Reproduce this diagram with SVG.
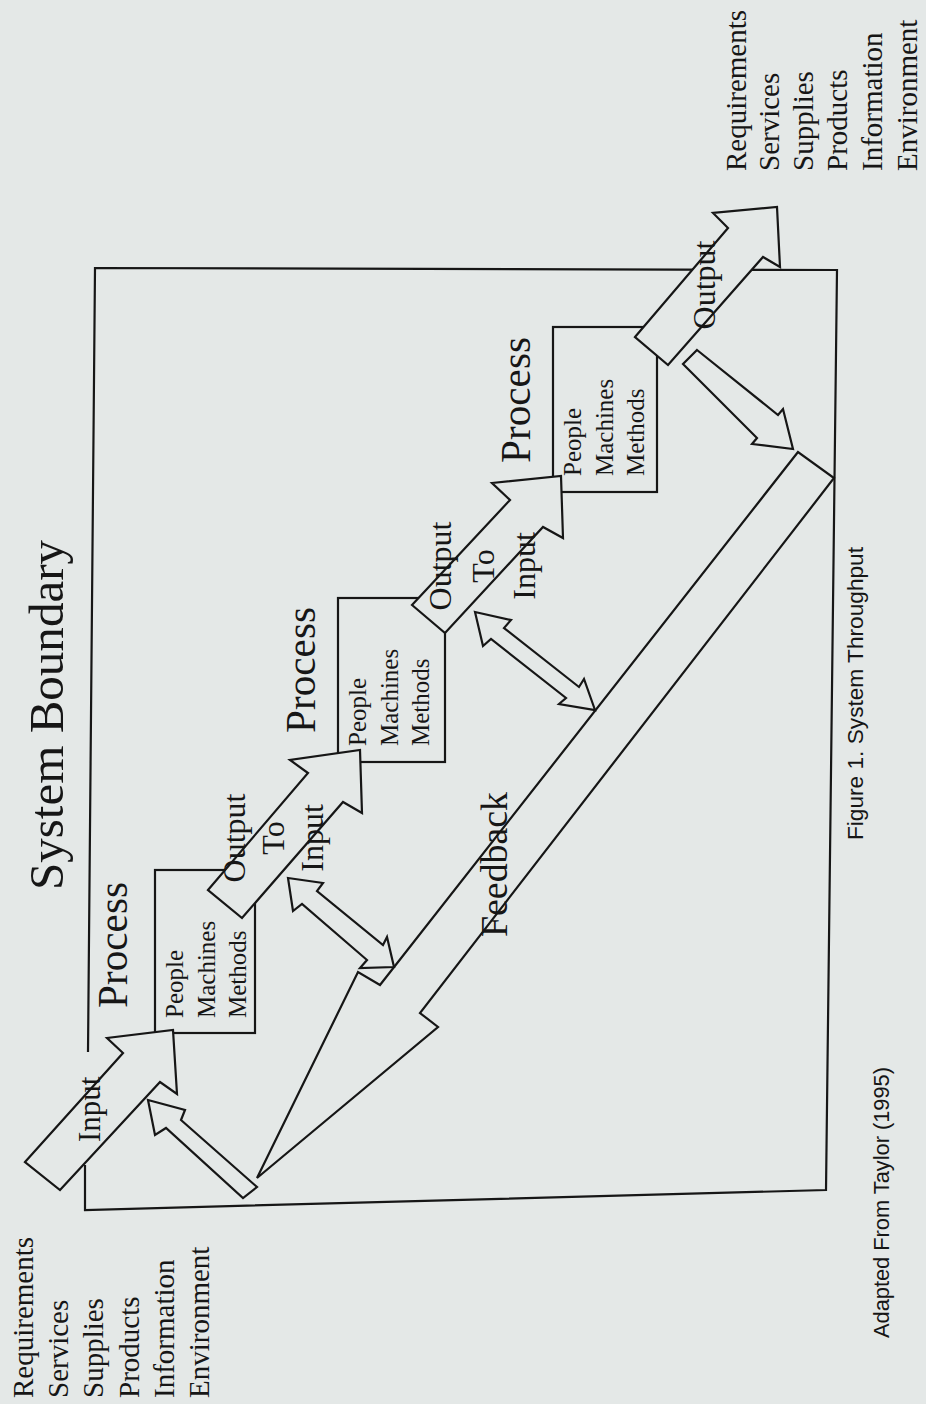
<svg xmlns="http://www.w3.org/2000/svg" width="926" height="1404" viewBox="0 0 926 1404">
<style>
.bg{fill:#e4e8e7}
.ln{fill:none;stroke:#161616;stroke-width:2.2;stroke-linejoin:miter}
.ar{fill:#e4e8e7;stroke:#161616;stroke-width:2.2;stroke-linejoin:miter}
.t{font-family:"Liberation Serif","Times New Roman",serif;fill:#161616}
.s{font-family:"Liberation Sans",Arial,sans-serif;fill:#161616}
</style>
<rect class="bg" x="0" y="0" width="926" height="1404"/>

<g id="boundary">
  <path class="ln" d="M88,1052 L95,268 L837,270 L826,1190 L85,1210 L85,1165"/>
  <text class="t" font-size="49" transform="translate(63,890) rotate(-90)" textLength="350" lengthAdjust="spacingAndGlyphs">System Boundary</text>
</g>

<g id="inputs-env">
  <g class="t" font-size="29">
    <text transform="translate(33,1398) rotate(-90)">Requirements</text>
    <text transform="translate(68,1398) rotate(-90)">Services</text>
    <text transform="translate(103,1398) rotate(-90)">Supplies</text>
    <text transform="translate(139,1398) rotate(-90)">Products</text>
    <text transform="translate(174,1398) rotate(-90)">Information</text>
    <text transform="translate(209,1398) rotate(-90)">Environment</text>
  </g>
</g>

<g id="outputs-env">
  <g class="t" font-size="29">
    <text transform="translate(746,171) rotate(-90)">Requirements</text>
    <text transform="translate(779,171) rotate(-90)">Services</text>
    <text transform="translate(813,171) rotate(-90)">Supplies</text>
    <text transform="translate(847,171) rotate(-90)">Products</text>
    <text transform="translate(882,171) rotate(-90)">Information</text>
    <text transform="translate(917,171) rotate(-90)">Environment</text>
  </g>
</g>

<g id="process1">
  <rect class="ln" x="155" y="870" width="100" height="163"/>
  <text class="t" font-size="42" transform="translate(127,1008) rotate(-90)" textLength="126" lengthAdjust="spacingAndGlyphs">Process</text>
  <g class="t" font-size="25">
    <text transform="translate(183,1018) rotate(-90)">People</text>
    <text transform="translate(215,1018) rotate(-90)">Machines</text>
    <text transform="translate(246,1018) rotate(-90)">Methods</text>
  </g>
</g>

<g id="process2">
  <rect class="ln" x="338" y="598" width="107" height="164"/>
  <text class="t" font-size="42" transform="translate(315,733) rotate(-90)" textLength="126" lengthAdjust="spacingAndGlyphs">Process</text>
  <g class="t" font-size="25">
    <text transform="translate(366,746) rotate(-90)">People</text>
    <text transform="translate(398,746) rotate(-90)">Machines</text>
    <text transform="translate(429,746) rotate(-90)">Methods</text>
  </g>
</g>

<g id="process3">
  <rect class="ln" x="553" y="327" width="104" height="165"/>
  <text class="t" font-size="42" transform="translate(530,463) rotate(-90)" textLength="126" lengthAdjust="spacingAndGlyphs">Process</text>
  <g class="t" font-size="25">
    <text transform="translate(581,476) rotate(-90)">People</text>
    <text transform="translate(613,476) rotate(-90)">Machines</text>
    <text transform="translate(644,476) rotate(-90)">Methods</text>
  </g>
</g>

<g id="connectors">
  <polygon id="input-arrow" class="ar" points="25,1162 123,1053 107,1038 173,1030 177,1094 160,1082 60,1190"/>
  <polygon id="output-to-input-1" class="ar" points="208,890 308,773 290,760 360,750 362,813 343,802 242,918"/>
  <polygon id="output-to-input-2" class="ar" points="412,605 510,500 492,483 561,476 563,538 543,527 445,633"/>
  <polygon id="output-arrow" class="ar" points="635,337 728,228 713,213 777,207 780,267 763,257 668,365"/>
  <polygon id="output-to-feedback" class="ar" points="697,350 778,415 783,409 793,449 752,444 757,438 683,364"/>
  <polygon id="feedback-to-input" class="ar" points="148,1100 185,1110 181,1120 257,1187 243,1198 166,1128 155,1135"/>
  <polygon id="feedback" class="ar" points="798,452 380,985 358,972 257,1178 438,1027 420,1013 834,478"/>
  <polygon id="feedback-link-1" class="ar" points="288,878 323,883 317,891 383,945 387,937 394,967 360,968 367,960 302,904 293,911"/>
  <polygon id="feedback-link-2" class="ar" points="475,612 511,620 504,628 579,687 584,679 595,710 559,704 566,698 491,639 483,646"/>
</g>

<g id="arrow-labels" class="t">
  <text font-size="31" transform="translate(100,1142) rotate(-90)">Input</text>
  <g font-size="32" text-anchor="middle">
    <text transform="translate(245,838) rotate(-90)">Output</text>
    <text transform="translate(284,838) rotate(-90)">To</text>
    <text transform="translate(323,838) rotate(-90)">Input</text>
    <text transform="translate(451,566) rotate(-90)">Output</text>
    <text transform="translate(494,566) rotate(-90)">To</text>
    <text transform="translate(535,566) rotate(-90)">Input</text>
    <text transform="translate(715,285) rotate(-90)">Output</text>
  </g>
  <text font-size="38" transform="translate(507,937) rotate(-90)" textLength="145" lengthAdjust="spacingAndGlyphs">Feedback</text>
</g>

<g id="captions">
  <text class="s" font-size="22.6" transform="translate(863,840) rotate(-90)" textLength="293" lengthAdjust="spacingAndGlyphs">Figure 1. System Throughput</text>
  <text class="s" font-size="21.6" transform="translate(889,1338) rotate(-90)" textLength="271" lengthAdjust="spacingAndGlyphs">Adapted From Taylor (1995)</text>
</g>
</svg>
